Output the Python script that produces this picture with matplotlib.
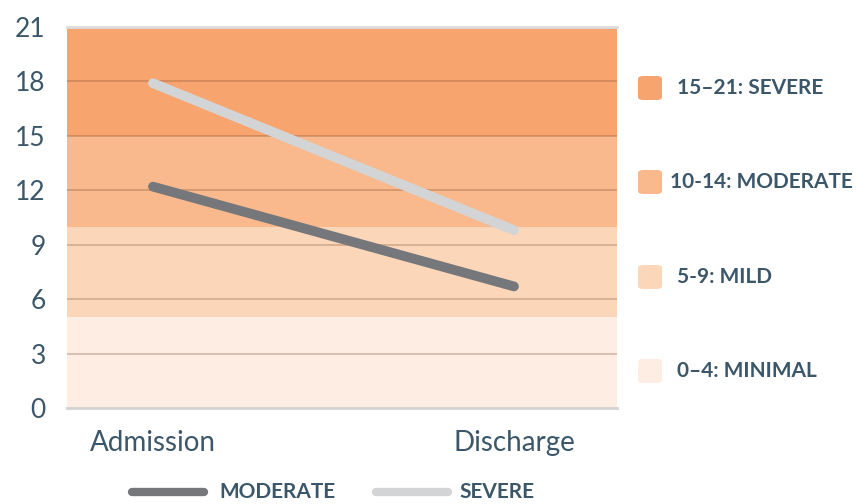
import matplotlib
matplotlib.use("Agg")
import matplotlib.pyplot as plt
from matplotlib.patches import FancyBboxPatch
from matplotlib.lines import Line2D

# Data
categories = ["Admission", "Discharge"]
moderate_scores = [12.2, 6.7]
severe_scores = [17.9, 9.8]
y_ticks = [0, 3, 6, 9, 12, 15, 18, 21]

# Severity bands (lower, upper, label, colour)
band_lows = [0, 5, 10, 15]
band_highs = [5, 10, 15, 21]
band_labels = ["0\u20134: MINIMAL", "5-9: MILD", "10-14: MODERATE", "15\u201321: SEVERE"]
band_colors = ["#feede3", "#fcd6b9", "#f9b98c", "#f7a46f"]

text_color = "#3b5769"
plt.rcParams["font.family"] = ["Lato", "DejaVu Sans"]

fig = plt.figure(figsize=(8.57, 5.04), dpi=100)
ax = fig.add_axes([0.0778, 0.1905, 0.642, 0.756])

x = list(range(len(categories)))
ax.set_xlim(-0.239, 1.285)
ax.set_ylim(0, 21)

for lo, hi, col in zip(band_lows, band_highs, band_colors):
    ax.axhspan(lo, hi, color=col, lw=0, zorder=0)

for t in y_ticks[1:-1]:
    ax.axhline(t, color="#7a4a2a", alpha=0.28, lw=1.4, zorder=1)
ax.axhline(21, color="#dcdcdc", lw=2, zorder=1, clip_on=False)
ax.axhline(0, color="#d4d4d4", lw=2, zorder=1, clip_on=False)

ax.plot(x, severe_scores, color="#d3d4d6", lw=7, solid_capstyle="round", zorder=3)
ax.plot(x, moderate_scores, color="#75777b", lw=7, solid_capstyle="round", zorder=3)

for s in ax.spines.values():
    s.set_visible(False)
ax.set_yticks(y_ticks)
ax.set_yticklabels([str(t) for t in y_ticks])
ax.set_xticks(x)
ax.set_xticklabels(categories)
ax.tick_params(axis="both", length=0, colors=text_color)
ax.tick_params(axis="y", pad=15, labelsize=19)
ax.tick_params(axis="x", pad=16, labelsize=20)

# Severity band legend on the right
centers_y = [371, 277, 182, 88]
for cy, col, lab in zip(centers_y, band_colors, band_labels):
    yf = 1 - cy / 504
    box = FancyBboxPatch((638 / 857, yf - 12 / 504), 24 / 857, 24 / 504,
                         boxstyle="round,pad=0,rounding_size=0.006",
                         transform=fig.transFigure, facecolor=col,
                         edgecolor="none")
    fig.patches.append(box)
    xt = 670 if lab.startswith("10") else 677
    fig.text(xt / 857, yf, lab, color=text_color, fontsize=15,
             fontweight="bold", va="center", ha="left")

# Series legend at the bottom
ly = 1 - 492 / 504
fig.add_artist(Line2D([132 / 857, 204 / 857], [ly, ly], color="#75777b", lw=6,
                      solid_capstyle="round", transform=fig.transFigure))
fig.text(219 / 857, ly, "MODERATE", color=text_color, fontsize=15,
         fontweight="bold", va="center", ha="left")
fig.add_artist(Line2D([376 / 857, 448 / 857], [ly, ly], color="#d3d4d6", lw=6,
                      solid_capstyle="round", transform=fig.transFigure))
fig.text(459 / 857, ly, "SEVERE", color=text_color, fontsize=15,
         fontweight="bold", va="center", ha="left")

fig.savefig("out.png", dpi=100, facecolor="white")
